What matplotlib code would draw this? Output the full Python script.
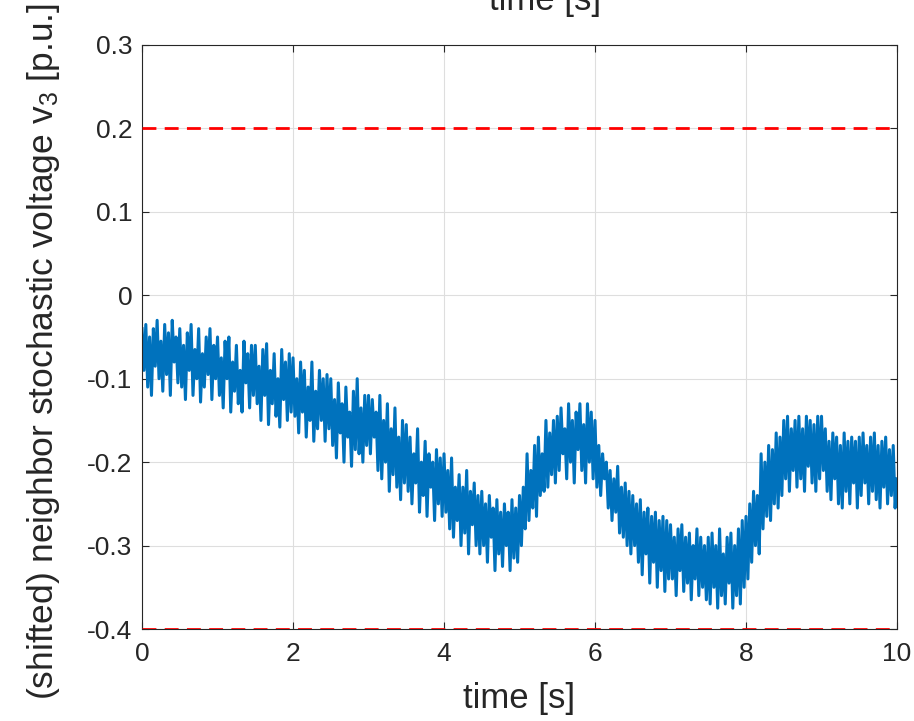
import numpy as np
import matplotlib
matplotlib.use('Agg')
import matplotlib.pyplot as plt

plt.rcParams['font.family'] = ['Liberation Sans', 'DejaVu Sans']
plt.rcParams['mathtext.default'] = 'regular'

# voltage, one value every 0.025 s (20 per half second)
v3 = [
    -0.04, -0.09, -0.035, -0.11, -0.05, -0.12, -0.04, -0.085, -0.03, -0.10,
    -0.055, -0.115, -0.035, -0.095, -0.045, -0.12, -0.03, -0.08, -0.05, -0.105,
    -0.04, -0.11, -0.06, -0.125, -0.045, -0.09, -0.035, -0.12, -0.065, -0.10,
    -0.04, -0.128, -0.07, -0.11, -0.05, -0.095, -0.04, -0.125, -0.06, -0.10,
    -0.05, -0.12, -0.075, -0.135, -0.055, -0.10, -0.05, -0.14, -0.08, -0.115,
    -0.06, -0.13, -0.09, -0.14, -0.055, -0.105, -0.07, -0.135, -0.06, -0.12,
    -0.06, -0.13, -0.085, -0.15, -0.065, -0.12, -0.058, -0.155, -0.09, -0.13,
    -0.07, -0.145, -0.10, -0.158, -0.065, -0.125, -0.08, -0.15, -0.07, -0.14,
    -0.075, -0.145, -0.10, -0.165, -0.08, -0.14, -0.09, -0.17, -0.11, -0.15,
    -0.08, -0.175, -0.115, -0.16, -0.09, -0.15, -0.10, -0.175, -0.095, -0.16,
    -0.10, -0.18, -0.125, -0.195, -0.105, -0.165, -0.13, -0.20, -0.11, -0.17,
    -0.14, -0.205, -0.115, -0.185, -0.10, -0.19, -0.135, -0.20, -0.12, -0.18,
    -0.12, -0.19, -0.125, -0.17, -0.14, -0.21, -0.12, -0.22, -0.15, -0.20,
    -0.13, -0.235, -0.16, -0.215, -0.135, -0.23, -0.17, -0.245, -0.15, -0.225,
    -0.155, -0.235, -0.17, -0.25, -0.19, -0.225, -0.16, -0.26, -0.20, -0.24,
    -0.175, -0.265, -0.19, -0.23, -0.20, -0.27, -0.185, -0.25, -0.195, -0.265,
    -0.19, -0.26, -0.21, -0.28, -0.195, -0.29, -0.23, -0.27, -0.215, -0.30,
    -0.23, -0.285, -0.21, -0.31, -0.235, -0.275, -0.225, -0.30, -0.24, -0.31,
    -0.235, -0.30, -0.25, -0.32, -0.24, -0.29, -0.255, -0.33, -0.245, -0.31,
    -0.26, -0.325, -0.25, -0.30, -0.26, -0.33, -0.245, -0.315, -0.255, -0.32,
    -0.24, -0.30, -0.23, -0.28, -0.19, -0.27, -0.21, -0.255, -0.18, -0.265,
    -0.17, -0.24, -0.19, -0.235, -0.15, -0.23, -0.165, -0.215, -0.15, -0.225,
    -0.145, -0.21, -0.135, -0.19, -0.16, -0.22, -0.13, -0.20, -0.15, -0.225,
    -0.14, -0.185, -0.13, -0.21, -0.155, -0.225, -0.13, -0.20, -0.14, -0.22,
    -0.15, -0.23, -0.18, -0.24, -0.19, -0.22, -0.20, -0.255, -0.21, -0.27,
    -0.22, -0.26, -0.205, -0.285, -0.23, -0.29, -0.225, -0.30, -0.235, -0.31,
    -0.24, -0.30, -0.25, -0.32, -0.245, -0.335, -0.26, -0.31, -0.255, -0.345,
    -0.265, -0.32, -0.26, -0.35, -0.27, -0.33, -0.265, -0.355, -0.27, -0.34,
    -0.275, -0.34, -0.29, -0.36, -0.28, -0.33, -0.275, -0.355, -0.29, -0.345,
    -0.285, -0.365, -0.30, -0.34, -0.28, -0.36, -0.29, -0.35, -0.30, -0.365,
    -0.29, -0.37, -0.285, -0.35, -0.30, -0.375, -0.28, -0.36, -0.31, -0.37,
    -0.29, -0.345, -0.285, -0.375, -0.30, -0.36, -0.28, -0.37, -0.27, -0.35,
    -0.265, -0.34, -0.25, -0.32, -0.235, -0.30, -0.24, -0.31, -0.19, -0.28,
    -0.20, -0.265, -0.18, -0.27, -0.185, -0.25, -0.165, -0.255, -0.17, -0.24,
    -0.15, -0.22, -0.145, -0.235, -0.16, -0.21, -0.15, -0.23, -0.145, -0.22,
    -0.16, -0.235, -0.145, -0.205, -0.15, -0.225, -0.155, -0.235, -0.145, -0.22,
    -0.145, -0.21, -0.16, -0.235, -0.175, -0.245, -0.165, -0.22, -0.17, -0.25,
    -0.18, -0.255, -0.165, -0.235, -0.175, -0.25, -0.17, -0.225, -0.175, -0.255,
    -0.17, -0.24, -0.165, -0.225, -0.18, -0.25, -0.17, -0.235, -0.165, -0.245,
    -0.18, -0.255, -0.175, -0.23, -0.17, -0.25, -0.185, -0.24, -0.18, -0.255,
    -0.22,
]
t = np.linspace(0, 10, len(v3))

limits = [0.2, -0.4]
x_ticks = [0, 2, 4, 6, 8, 10]
y_ticks = [-0.4, -0.3, -0.2, -0.1, 0, 0.1, 0.2, 0.3]
y_labels = ['-0.4', '-0.3', '-0.2', '-0.1', '0', '0.1', '0.2', '0.3']

fig = plt.figure(figsize=(9.14, 7.21), dpi=100)
ax = fig.add_axes([0.1554, 0.1276, 0.826, 0.81])

ax.plot(t, v3, color='#0072BD', linewidth=2.2)
for lim in limits:
    ax.axhline(lim, color='#FF0000', linestyle=(0, (5, 3)), linewidth=2, zorder=3)

ax.set_xlim(0, 10)
ax.set_ylim(-0.4, 0.3)
ax.set_xticks(x_ticks)
ax.set_yticks(y_ticks)
ax.set_yticklabels(y_labels)
ax.grid(True, color='#dedede', linewidth=0.8)
ax.set_axisbelow(True)

dark = '#262626'
for s in ax.spines.values():
    s.set_color(dark)
    s.set_linewidth(0.8)
ax.tick_params(direction='in', length=5, colors=dark, labelsize=19,
               top=True, right=True)
ax.tick_params(axis='x', pad=9)
ax.tick_params(axis='y', pad=7)

ax.set_xlabel('time [s]', fontsize=25, color=dark, labelpad=12)
ax.set_ylabel('(shifted) neighbor stochastic voltage v$_3$ [p.u.]',
              fontsize=25.5, color=dark)
ax.yaxis.set_label_coords(-0.106, 0.475)

# cut-off label of the plot above
fig.text(545 / 914, 1 - 10 / 721, 'time [s]', fontsize=25, color=dark,
         ha='center', va='baseline')

fig.savefig('out.png', dpi=100)
